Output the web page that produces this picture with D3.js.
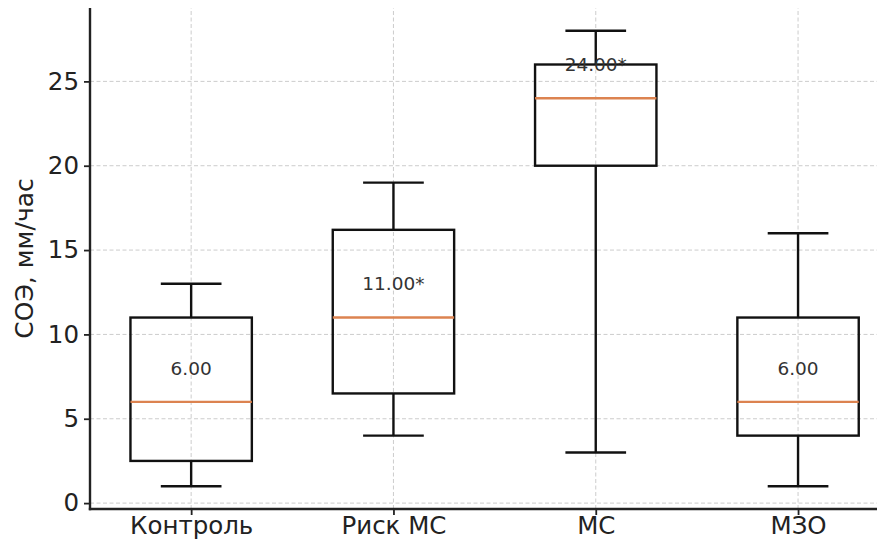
<!DOCTYPE html>
<html>
<head>
<meta charset="utf-8">
<script src="https://cdn.jsdelivr.net/npm/d3@7"></script>
<style>
  html, body { margin: 0; padding: 0; background: #fff; }
  svg { display: block; }
  text { font-family: "DejaVu Sans", sans-serif; }
</style>
</head>
<body>
<svg id="chart" width="877" height="540"></svg>
<script>
const categories = ["Контроль", "Риск МС", "МС", "МЗО"];
const whiskerLow  = [1, 4, 3, 1];
const q1          = [2.5, 6.5, 20, 4];
const medians     = [6, 11, 24, 6];
const q3          = [11, 16.2, 26, 11];
const whiskerHigh = [13, 19, 28, 16];
const medianLabels = ["6.00", "11.00*", "24.00*", "6.00"];
const yTicks = [0, 5, 10, 15, 20, 25];
const yLabel = "СОЭ, мм/час";

const W = 877, H = 540;
const svg = d3.select("#chart");

const margin = { left: 90, top: 8, bottom: 31 };
const y = d3.scaleLinear().domain([-0.35, 29.35]).range([H - margin.bottom, margin.top]);
const x = d3.scaleLinear().domain([0.5, 4.5]).range([margin.left, margin.left + 4 * 202.3]);

const boxW = 0.6, capW = 0.3;
const LW = 2.4;

// grid
const g = svg.append("g");
g.selectAll(".hg").data(yTicks).enter().append("line")
  .attr("x1", x(0.5)).attr("x2", W)
  .attr("y1", d => y(d)).attr("y2", d => y(d))
  .attr("stroke", "#cccccc").attr("stroke-width", 1).attr("stroke-dasharray", "4,2.5");
g.selectAll(".vg").data(categories).enter().append("line")
  .attr("x1", (d, i) => x(i + 1)).attr("x2", (d, i) => x(i + 1))
  .attr("y1", y(-0.35)).attr("y2", margin.top)
  .attr("stroke", "#cccccc").attr("stroke-width", 1).attr("stroke-dasharray", "4,2.5");

// boxes
const bx = svg.append("g");
categories.forEach((c, i) => {
  const p = i + 1;
  const stroke = "#111";
  bx.append("line").attr("x1", x(p)).attr("x2", x(p))
    .attr("y1", y(q1[i])).attr("y2", y(whiskerLow[i]))
    .attr("stroke", stroke).attr("stroke-width", LW);
  bx.append("line").attr("x1", x(p)).attr("x2", x(p))
    .attr("y1", y(q3[i])).attr("y2", y(whiskerHigh[i]))
    .attr("stroke", stroke).attr("stroke-width", LW);
  [whiskerLow[i], whiskerHigh[i]].forEach(v => {
    bx.append("line").attr("x1", x(p - capW / 2)).attr("x2", x(p + capW / 2))
      .attr("y1", y(v)).attr("y2", y(v))
      .attr("stroke", stroke).attr("stroke-width", LW);
  });
  bx.append("rect")
    .attr("x", x(p - boxW / 2)).attr("width", x(p + boxW / 2) - x(p - boxW / 2))
    .attr("y", y(q3[i])).attr("height", y(q1[i]) - y(q3[i]))
    .attr("fill", "none").attr("stroke", stroke).attr("stroke-width", LW);
  bx.append("line").attr("x1", x(p - boxW / 2)).attr("x2", x(p + boxW / 2))
    .attr("y1", y(medians[i])).attr("y2", y(medians[i]))
    .attr("stroke", "#dc8350").attr("stroke-width", LW);
  bx.append("text").attr("x", x(p)).attr("y", y(medians[i] + 2))
    .attr("text-anchor", "middle").attr("dominant-baseline", "central")
    .attr("font-size", 18.5).attr("fill", "#333").text(medianLabels[i]);
});

// axes
const yAxis = d3.axisLeft(y).tickValues(yTicks).tickSize(6).tickPadding(5);
const ya = svg.append("g").attr("transform", `translate(${margin.left},0)`).call(yAxis);
ya.select(".domain").remove();
ya.selectAll(".tick line").attr("stroke", "#222").attr("stroke-width", 1.8);
ya.selectAll(".tick text").attr("font-size", 24.5).attr("fill", "#222")
  .attr("font-family", "DejaVu Sans, sans-serif");

const xAxis = d3.axisBottom(x).tickValues([1, 2, 3, 4]).tickFormat((d) => categories[d - 1]).tickSize(6).tickPadding(2);
const xa = svg.append("g").attr("transform", `translate(0,${y(-0.35)})`).call(xAxis);
xa.select(".domain").remove();
xa.selectAll(".tick line").attr("stroke", "#222").attr("stroke-width", 1.8);
xa.selectAll(".tick text").attr("font-size", 24.5).attr("fill", "#222")
  .attr("font-family", "DejaVu Sans, sans-serif");

// spines
svg.append("line").attr("x1", margin.left).attr("x2", margin.left)
  .attr("y1", margin.top).attr("y2", y(-0.35) + 1.2)
  .attr("stroke", "#222").attr("stroke-width", 2.4);
svg.append("line").attr("x1", margin.left - 1.2).attr("x2", W)
  .attr("y1", y(-0.35)).attr("y2", y(-0.35))
  .attr("stroke", "#222").attr("stroke-width", 2.4);

// y label
svg.append("text").attr("transform", `translate(33,${(margin.top + y(-0.35)) / 2}) rotate(-90)`)
  .attr("text-anchor", "middle").attr("font-size", 25).attr("fill", "#222").text(yLabel);
</script>
</body>
</html>
